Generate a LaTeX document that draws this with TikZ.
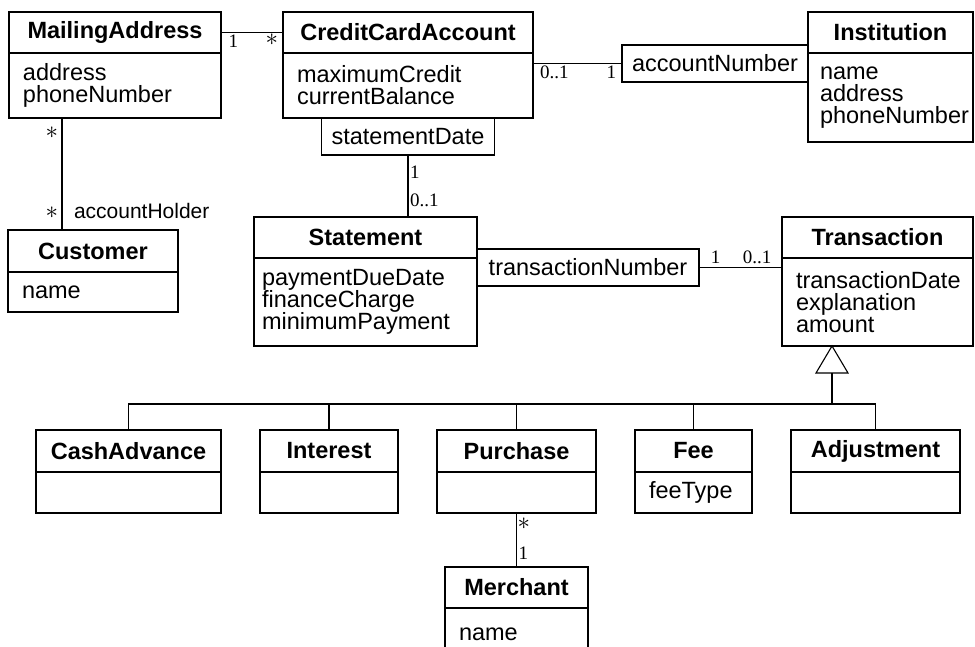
\documentclass[tikz,border=0pt]{standalone}
\usepackage{fontspec}
\setmainfont{Liberation Sans}
\newfontfamily\multfont{Liberation Serif}
\usetikzlibrary{positioning}

\begin{document}
\begin{tikzpicture}[x=1pt, y=-1pt, line width=1.1pt, outer sep=0pt,
        classname/.style={draw, anchor=north west, inner sep=0pt, minimum height=41pt, font=\fontsize{23.5}{22}\selectfont\bfseries},
        classattr/.style={draw, inner xsep=14pt, inner ysep=0pt, align=left, font=\fontsize{23.5}{22}\selectfont},
        qual/.style={draw, anchor=north west, inner sep=0pt, minimum height=37pt, font=\fontsize{23.5}{22}\selectfont},
        mult/.style={inner sep=2pt, font=\multfont\fontsize{19}{19}\selectfont},
        many/.style={inner sep=1pt, font=\fontsize{30}{30}\selectfont},
        role/.style={inner sep=3pt, font=\fontsize{21}{21}\selectfont}]
        \useasboundingbox (0,0) rectangle (975,646);
        % classes
        \node[classname, minimum width=212pt] (mail) at (9,12) {MailingAddress};
        \node[classattr, text width=184pt, minimum height=65pt] (mail-a) [below=0pt of mail] {address\\phoneNumber};
        \node[classname, minimum width=250pt] (card) at (283,12) {CreditCardAccount};
        \node[classattr, text width=222pt, minimum height=65pt] (card-a) [below=0pt of card] {maximumCredit\\currentBalance};
        \node[classname, minimum width=165pt] (inst) at (808,12) {Institution};
        \node[classattr, text width=141pt, minimum height=89pt, inner xsep=12pt] (inst-a) [below=0pt of inst] {name\\address\\phoneNumber};
        \node[classname, minimum width=170pt, minimum height=42pt] (cust) at (8,230) {Customer};
        \node[classattr, text width=142pt, minimum height=40pt] (cust-a) [below=0pt of cust] {name};
        \node[classname, minimum width=223pt] (stmt) at (254,217) {Statement};
        \node[classattr, text width=207pt, minimum height=88pt, inner xsep=8pt] (stmt-a) [below=0pt of stmt] {paymentDueDate\\financeCharge\\minimumPayment};
        \node[classname, minimum width=191pt] (trans) at (782,217) {Transaction};
        \node[classattr, text width=163pt, minimum height=88pt] (trans-a) [below=0pt of trans] {transactionDate\\explanation\\amount};
        \node[classname, minimum width=185pt, minimum height=42pt] (cash) at (36,430) {CashAdvance};
        \node[classattr, text width=157pt, minimum height=41pt] (cash-a) [below=0pt of cash] {};
        \node[classname, minimum width=138pt, minimum height=42pt] (intr) at (260,430) {Interest};
        \node[classattr, text width=110pt, minimum height=41pt] (intr-a) [below=0pt of intr] {};
        \node[classname, minimum width=159pt, minimum height=42pt] (purch) at (437,430) {Purchase};
        \node[classattr, text width=131pt, minimum height=41pt] (purch-a) [below=0pt of purch] {};
        \node[classname, minimum width=117pt, minimum height=42pt] (fee) at (635,430) {Fee};
        \node[classattr, text width=89pt, minimum height=41pt] (fee-a) [below=0pt of fee] {feeType};
        \node[classname, minimum width=169pt, minimum height=42pt] (adj) at (791,430) {Adjustment};
        \node[classattr, text width=141pt, minimum height=41pt] (adj-a) [below=0pt of adj] {};
        \node[classname, minimum width=143pt] (merch) at (445,567) {Merchant};
        \node[classattr, text width=115pt, minimum height=52pt, anchor=north] (merch-a) [below=0pt of merch] {name};
        % qualifiers
        \node[qual, minimum width=173pt, anchor=north] (sdate) [below=0pt of card-a] {statementDate};
        \node[qual, minimum width=186pt] (acctno) at (622,45) {accountNumber};
        \node[qual, minimum width=222pt] (transno) at (477,249) {transactionNumber};
        % associations
        \path (mail.east) edge node[mult, below, pos=0.2] {1} node[many, below, pos=0.82] {$\ast$} (card.west)
        (card-a.east |- acctno.west) edge node[mult, below, pos=0.24] {0..1} node[mult, below, pos=0.88] {1} (acctno.west)
        (sdate.south) edge node[mult, right, pos=0.27] {1} node[mult, right, pos=0.73] {0..1} (sdate.south |- stmt.north)
        (transno.east) edge node[mult, above=2pt, pos=0.2] {1} node[mult, above=2pt, pos=0.7] {0..1} (transno.east -| trans-a.west)
        ([xshift=53pt]mail-a.south west) edge node[many, left=3pt, pos=0.13] {$\ast$} node[many, left=3pt, pos=0.85] {$\ast$}
                node[role, right=9pt, pos=0.83] {accountHolder} ([xshift=54pt]cust.north west)
        (purch-a.south) edge node[many, right, pos=0.2] {$\ast$} node[mult, right, pos=0.74] {1} (merch.north)
        ;
        % generalization
        \coordinate (apex) at (832,346);
        \coordinate (tribase) at (832,373);
        \coordinate (bus) at (832,404);
        \draw (apex) -- ++(-16,27) -- ++(32,0) -- cycle;
        \draw (tribase) -- (bus);
        \foreach \sub in {cash,intr,purch,fee,adj}
            \draw (bus) -| (\sub.north);
    \end{tikzpicture}
\end{document}
